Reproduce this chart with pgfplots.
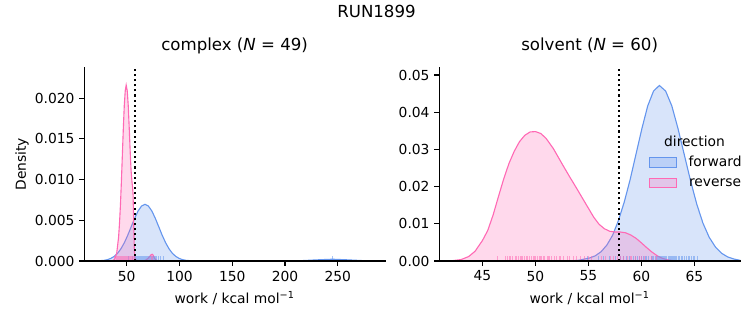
\documentclass[border=0pt]{standalone}
\usepackage{pgfplots}
\pgfplotsset{compat=1.18}
\usepackage{fontspec}
\setmainfont{DejaVu Sans}
\definecolor{fwd}{RGB}{100,149,237}
\definecolor{rev}{RGB}{255,105,180}
\tikzset{spines/.style={black, line width=0.8bp, line cap=rect}}
\pgfplotsset{
  common/.style={
    scale only axis,
    width=216.5bp, height=139.5bp,
    axis line style={draw=none},
    xtick pos=bottom, ytick pos=left,
    tick align=outside,
    major tick length=3.5bp,
    every tick/.style={black, line width=0.8bp},
    tick label style={font=\fontsize{10}{12}\selectfont},
    /pgf/number format/assume math mode=true,
    scaled y ticks=false,
    ymin=0,
    title style={at={(axis description cs:0.5,1.0428)}, anchor=base, font=\fontsize{12}{14}\selectfont},
    xlabel style={at={(axis description cs:0.5,-0.2194)}, anchor=base, font=\fontsize{10}{12}\selectfont},
    ylabel style={at={(axis description cs:-0.1939,0.5)}, anchor=base, font=\fontsize{10}{12}\selectfont},
    clip=false,
  },
  kdefwd/.style={draw=fwd, line width=0.8bp, fill=fwd, fill opacity=0.25, draw opacity=1},
  kderev/.style={draw=rev, line width=0.8bp, fill=rev, fill opacity=0.25, draw opacity=1},
  rugfwd/.style={ycomb, no marks, draw=fwd, line width=0.5bp, opacity=0.55},
  rugrev/.style={ycomb, no marks, draw=rev, line width=0.5bp, opacity=0.55},
  vline/.style={black, line width=1.5bp, dash pattern=on 1.5bp off 2.2bp},
}
\begin{document}
\begin{tikzpicture}[x=0.72bp,y=0.72bp]
\useasboundingbox (0,0) rectangle (753,325);
\node[anchor=base, font=\fontsize{12}{14}\selectfont] at (376.5,307.7) {RUN1899};
% ---------------- complex ----------------
\begin{scope}[shift={(84.3,64)}]
\begin{axis}[common,
  xmin=9.8, xmax=294.8, ymax=0.0238,
  xtick={50,100,150,200,250},
  ytick={0,0.005,0.01,0.015,0.02},
  yticklabel style={/pgf/number format/.cd, fixed, fixed zerofill, precision=3},
  title={complex (\textit{N} = 49)},
  xlabel={work / kcal mol\textsuperscript{−1}},
  ylabel={Density}]
\addplot[kdefwd] coordinates {
(15,0) (21.8,0.000015) (28.3,0.000077) (31.55,0.00016) (34.8,0.00031) (38.05,0.00056)
(41.3,0.00094) (44.55,0.00151) (47.8,0.00226) (51.05,0.00319) (54.3,0.00423)
(57.55,0.00526) (60.8,0.00615) (64.05,0.00675) (67.3,0.00697) (70.55,0.00675)
(73.8,0.00615) (77.05,0.00526) (80.3,0.00423) (83.55,0.00319) (86.8,0.00226)
(90.05,0.00151) (93.3,0.00094) (96.55,0.00056) (99.8,0.00031) (103.05,0.00016)
(106.3,0.000077) (112.8,0.000015) (130,0.000003) (180,0.000003) (200,0.00001)
(215,0.00004) (230,0.00014) (245,0.00022) (260,0.00014) (275,0.00004) (290,0.00001) (294.8,0.000005)
} \closedcycle;
\addplot[kderev] coordinates {
(35,0) (36.9,0.00005) (38.7,0.00024) (40.5,0.00095) (42.3,0.00292) (43.2,0.0047)
(44.1,0.0070) (45.0,0.0099) (45.9,0.0131) (46.8,0.0163) (47.7,0.0191) (48.6,0.0209)
(49.5,0.0216) (50.5,0.0209) (51.45,0.0191) (52.4,0.0163) (53.4,0.0131) (54.1,0.0112)
(55.0,0.0097) (55.6,0.0090) (56.0,0.0082) (56.4,0.0060) (56.8,0.0035) (57.2,0.0015)
(57.6,0.0006) (58.2,0.0002) (60,0.00005) (66,0.00003) (68,0.0001) (70,0.0003)
(72,0.0006) (73.5,0.0008) (74.5,0.00082) (75.5,0.0006) (76.5,0.0003) (78,0.0001) (80,0.00002) (85,0)
} \closedcycle;
\addplot[rugfwd] coordinates {
(52.0,0.0006) (55.0,0.0006) (57.5,0.0006) (58.5,0.0006) (59.5,0.0006) (60.5,0.0006)
(61.3,0.0006) (62.0,0.0006) (62.8,0.0006) (63.5,0.0006) (64.2,0.0006) (65.0,0.0006)
(65.7,0.0006) (66.4,0.0006) (67.0,0.0006) (67.6,0.0006) (68.3,0.0006) (69.0,0.0006)
(69.7,0.0006) (70.4,0.0006) (71.2,0.0006) (72.0,0.0006) (72.8,0.0006) (73.6,0.0006)
(74.5,0.0006) (75.4,0.0006) (76.3,0.0006) (77.3,0.0006) (78.5,0.0006) (80.0,0.0006)
(82.0,0.0006) (85.0,0.0006) (244.5,0.0006)
};
\addplot[rugrev] coordinates {
(38.5,0.0006) (40.2,0.0006) (41.5,0.0006) (42.3,0.0006) (43.0,0.0006) (43.8,0.0006)
(44.5,0.0006) (45.0,0.0006) (45.6,0.0006) (46.1,0.0006) (46.5,0.0006) (47.0,0.0006)
(47.4,0.0006) (47.8,0.0006) (48.2,0.0006) (48.6,0.0006) (49.0,0.0006) (49.3,0.0006)
(49.7,0.0006) (50.0,0.0006) (50.4,0.0006) (50.8,0.0006) (51.2,0.0006) (51.6,0.0006)
(52.0,0.0006) (52.5,0.0006) (53.0,0.0006) (53.5,0.0006) (54.1,0.0006) (54.7,0.0006)
(55.3,0.0006) (56.0,0.0006) (56.6,0.0006) (57.2,0.0006) (73.2,0.0006) (74.5,0.0006)
};
\addplot[vline] coordinates {(57.8,0) (57.8,0.0238)};
\draw[spines] (rel axis cs:0,1) -- (rel axis cs:0,0) -- (rel axis cs:1,0);
\end{axis}
\end{scope}
% ---------------- solvent ----------------
\begin{scope}[shift={(439.3,64)}]
\begin{axis}[common,
  xmin=40.93, xmax=69.31, ymax=0.0521,
  xtick={45,50,55,60,65},
  ytick={0,0.01,0.02,0.03,0.04,0.05},
  yticklabel style={/pgf/number format/.cd, fixed, fixed zerofill, precision=2},
  title={solvent (\textit{N} = 60)},
  xlabel={work / kcal mol\textsuperscript{−1}}]
\addplot[kdefwd] coordinates {
(52,0) (52.9,0.00003) (54.0,0.00015) (55.1,0.0008) (55.65,0.0014) (56.2,0.0025)
(56.75,0.0043) (57.3,0.0070) (57.85,0.0110) (58.4,0.0160) (58.95,0.0220) (59.5,0.0288)
(60.05,0.0356) (60.6,0.0417) (61.15,0.0457) (61.7,0.0472) (62.29,0.0457) (62.875,0.0417)
(63.46,0.0356) (64.05,0.0286) (64.64,0.0216) (65.225,0.01533) (65.81,0.0102)
(66.4,0.00639) (66.99,0.00376) (67.575,0.00207) (68.16,0.00108) (68.75,0.00052) (69.3,0.0002)
} \closedcycle;
\addplot[kderev] coordinates {
(41.5,0) (42.2,0.0001) (43.0,0.0004) (43.7,0.0012) (44.3,0.0026) (45.0,0.0055)
(45.5,0.0082) (46.0,0.0123) (46.5,0.0172) (47.0,0.0220) (47.5,0.0262) (48.0,0.0295)
(48.5,0.0321) (49.0,0.0338) (49.5,0.0347) (50.0,0.0348) (50.5,0.0343) (51.0,0.0330)
(51.7,0.0302) (52.5,0.0262) (53.2,0.0228) (53.9,0.0195) (54.5,0.0166) (55.0,0.0142)
(55.5,0.0118) (56.0,0.0099) (56.5,0.0087) (57.0,0.0080) (57.5,0.0078) (58.0,0.0078)
(58.5,0.0076) (59.0,0.0070) (59.5,0.0061) (60.0,0.0049) (60.5,0.0036) (61.0,0.0024)
(61.5,0.0014) (62.0,0.0007) (62.5,0.0003) (63.0,0.0001) (63.5,0)
} \closedcycle;
\addplot[rugfwd] coordinates {
(54.9,0.0013) (55.9,0.0013) (56.4,0.0013) (57.0,0.0013) (57.5,0.0013) (58.0,0.0013)
(58.3,0.0013) (58.6,0.0013) (58.9,0.0013) (59.2,0.0013) (59.4,0.0013) (59.6,0.0013)
(59.8,0.0013) (60.0,0.0013) (60.2,0.0013) (60.4,0.0013) (60.5,0.0013) (60.7,0.0013)
(60.9,0.0013) (61.0,0.0013) (61.1,0.0013) (61.3,0.0013) (61.4,0.0013) (61.5,0.0013)
(61.6,0.0013) (61.7,0.0013) (61.8,0.0013) (61.9,0.0013) (62.0,0.0013) (62.1,0.0013)
(62.2,0.0013) (62.3,0.0013) (62.4,0.0013) (62.5,0.0013) (62.6,0.0013) (62.7,0.0013)
(62.8,0.0013) (62.9,0.0013) (63.0,0.0013) (63.1,0.0013) (63.2,0.0013) (63.3,0.0013)
(63.5,0.0013) (63.6,0.0013) (63.8,0.0013) (63.9,0.0013) (64.1,0.0013) (64.2,0.0013)
(64.4,0.0013) (64.5,0.0013) (64.7,0.0013) (64.9,0.0013) (65.0,0.0013) (65.28,0.0013)
};
\addplot[rugrev] coordinates {
(46.42,0.0013) (47.2,0.0013) (47.31,0.0013) (47.56,0.0013) (47.68,0.0013) (47.87,0.0013)
(48.06,0.0013) (48.2,0.0013) (48.41,0.0013) (48.57,0.0013) (48.7,0.0013) (48.78,0.0013)
(48.92,0.0013) (49.0,0.0013) (49.10,0.0013) (49.26,0.0013) (49.45,0.0013) (49.64,0.0013)
(49.83,0.0013) (49.9,0.0013) (50.0,0.0013) (50.15,0.0013) (50.34,0.0013) (50.46,0.0013)
(50.6,0.0013) (50.71,0.0013) (50.87,0.0013) (51.09,0.0013) (51.2,0.0013) (51.28,0.0013)
(51.47,0.0013) (51.78,0.0013) (52.00,0.0013) (52.23,0.0013) (52.35,0.0013) (52.6,0.0013)
(52.98,0.0013) (53.2,0.0013) (53.61,0.0013) (53.84,0.0013) (54.24,0.0013) (54.6,0.0013)
(55.0,0.0013) (55.3,0.0013) (56.2,0.0013) (56.61,0.0013) (57.08,0.0013) (57.39,0.0013)
(57.7,0.0013) (58.03,0.0013) (58.34,0.0013) (58.66,0.0013) (58.97,0.0013) (59.1,0.0013)
(59.4,0.0013) (59.8,0.0013) (60.0,0.0013) (60.3,0.0013) (60.9,0.0013) (61.4,0.0013)
};
\addplot[vline] coordinates {(57.9,0) (57.9,0.0521)};
\draw[spines] (rel axis cs:0,1) -- (rel axis cs:0,0) -- (rel axis cs:1,0);
\end{axis}
\end{scope}
% ---------------- legend ----------------
\node[anchor=base, font=\fontsize{10}{12}\selectfont] at (694.5,179) {direction};
\draw[draw=fwd, line width=0.8bp, fill=fwd, fill opacity=0.25] (649.3,157.7) rectangle (676.7,167.7);
\draw[draw=rev, line width=0.8bp, fill=rev, fill opacity=0.25] (649.3,137.3) rectangle (676.7,146.7);
\node[anchor=base west, inner sep=0pt, font=\fontsize{10}{12}\selectfont] at (688.3,159) {forward};
\node[anchor=base west, inner sep=0pt, font=\fontsize{10}{12}\selectfont] at (688.8,138.5) {reverse};
\end{tikzpicture}
\end{document}
